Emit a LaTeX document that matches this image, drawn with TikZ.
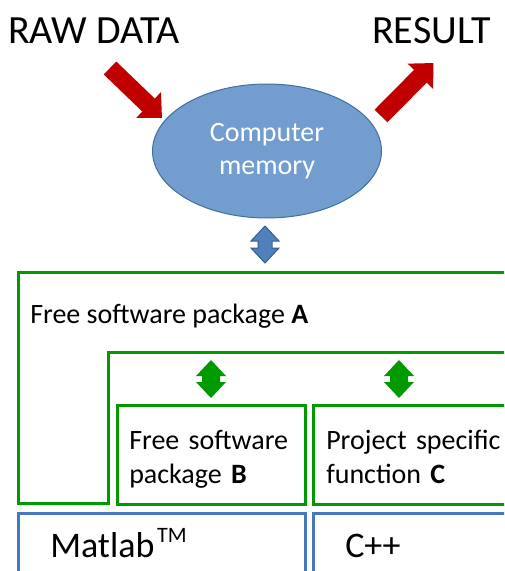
\documentclass[tikz,border=0pt]{standalone}
\usepackage{fontspec}
\setmainfont{Carlito}
\usetikzlibrary{shapes.geometric,arrows.meta}

\begin{document}
\begin{tikzpicture}[x=0.75pt,y=0.75pt,yscale=-1,xscale=1]
				%set diagram to 504 x 571, boxes run past the right and bottom edge
				\useasboundingbox (0,0) rectangle (504,571);
				\clip (0,0) rectangle (504,571);

				% Text Node
				\draw (8,43) node [anchor=base west][inner sep=0pt][font=\fontsize{30}{36}\selectfont] (raw) {RAW DATA};
				% Text Node
				\draw (372,43) node [anchor=base west][inner sep=0pt][font=\fontsize{30}{36}\selectfont] (result) {RESULT};

				%Shape: Ellipse [id:mem]
				\draw (267,151) node [ellipse][draw={rgb, 255:red, 65; green, 113; blue, 156 }][line width=0.75][fill={rgb, 255:red, 114; green, 157; blue, 206 }][minimum width=171.75pt][minimum height=100.5pt][inner sep=0pt][align=center][text=white][font=\fontsize{21}{24.75}\selectfont] (mem) {Computer\\memory};

				%Straight Lines [id:rawin]
				\coordinate (rawtail) at (110,68);
				\coordinate (rawtip) at (162,118);
				\draw [color={rgb, 255:red, 192; green, 0; blue, 0 }][line width=13.5pt][-{Triangle[width=26pt,length=14pt]}] (rawtail) -- (rawtip);
				%Straight Lines [id:resout]
				\coordinate (restail) at (381,116);
				\coordinate (restip) at (433.5,63);
				\draw [color={rgb, 255:red, 192; green, 0; blue, 0 }][line width=13.5pt][-{Triangle[width=26pt,length=14pt]}] (restail) -- (restip);

				%Shape: Up Down Arrow [id:memlink]
				\draw [color={rgb, 255:red, 56; green, 93; blue, 138 }][fill={rgb, 255:red, 79; green, 129; blue, 189 }][line width=0.75] (265,226) -- (279,241) -- (272,241) -- (272,248) -- (279,248) -- (265,263) -- (251,248) -- (258,248) -- (258,241) -- (251,241) -- cycle ;

				%Shape: Polygon [id:pkgA]
				\draw [color={rgb, 255:red, 0; green, 153; blue, 0 }][line width=2.25pt] (18,272) -- (520,272) -- (520,352) -- (108,352) -- (108,503) -- (18,503) -- cycle ;
				% Text Node
				\draw (30,323) node [anchor=base west][inner sep=0pt][font=\fontsize{21}{25.5}\selectfont] (labelA) {Free software package \textbf{A}};

				%Shape: Up Down Arrow [id:linkB]
				\draw [fill={rgb, 255:red, 0; green, 153; blue, 0 }][draw=none] (211,360) -- (226,376) -- (220,376) -- (220,382) -- (226,382) -- (211,398) -- (196,382) -- (202,382) -- (202,376) -- (196,376) -- cycle ;
				%Shape: Up Down Arrow [id:linkC]
				\draw [fill={rgb, 255:red, 0; green, 153; blue, 0 }][draw=none] (399,360) -- (414,376) -- (408,376) -- (408,382) -- (414,382) -- (399,398) -- (384,382) -- (390,382) -- (390,376) -- (384,376) -- cycle ;

				%Shape: Rectangle [id:pkgB]
				\draw [color={rgb, 255:red, 0; green, 153; blue, 0 }][line width=2.25pt] (117,405) rectangle (305,504) ;
				%Shape: Rectangle [id:funcC]
				\draw [color={rgb, 255:red, 0; green, 153; blue, 0 }][line width=2.25pt] (313,405) rectangle (520,504) ;
				% Text Node
				\draw (129,449) node [anchor=base west][inner sep=0pt][text width=170pt][align=left][font=\fontsize{21}{25.5}\selectfont] (labelB) {Free software\\package \textbf{B}};
				% Text Node
				\draw (326,449) node [anchor=base west][inner sep=0pt][text width=170pt][align=left][font=\fontsize{21}{25.5}\selectfont] (labelC) {Project specific\\function \textbf{C}};

				%Shape: Rectangle [id:matlabbox]
				\draw [color={rgb, 255:red, 70; green, 120; blue, 190 }][line width=2.25pt] (18,513) rectangle (305,600) ;
				%Shape: Rectangle [id:cppbox]
				\draw [color={rgb, 255:red, 70; green, 120; blue, 190 }][line width=2.25pt] (313,513) rectangle (520,600) ;
				% Text Node
				\draw (50,557) node [anchor=base west][inner sep=0pt][font=\fontsize{27}{32}\selectfont] (matlab) {Matlab\kern2pt\raisebox{11pt}{\fontsize{16.5}{18}\selectfont TM}};
				% Text Node
				\draw (345,557) node [anchor=base west][inner sep=0pt][font=\fontsize{27}{32}\selectfont] (cpp) {C++};

\end{tikzpicture}
\end{document}
